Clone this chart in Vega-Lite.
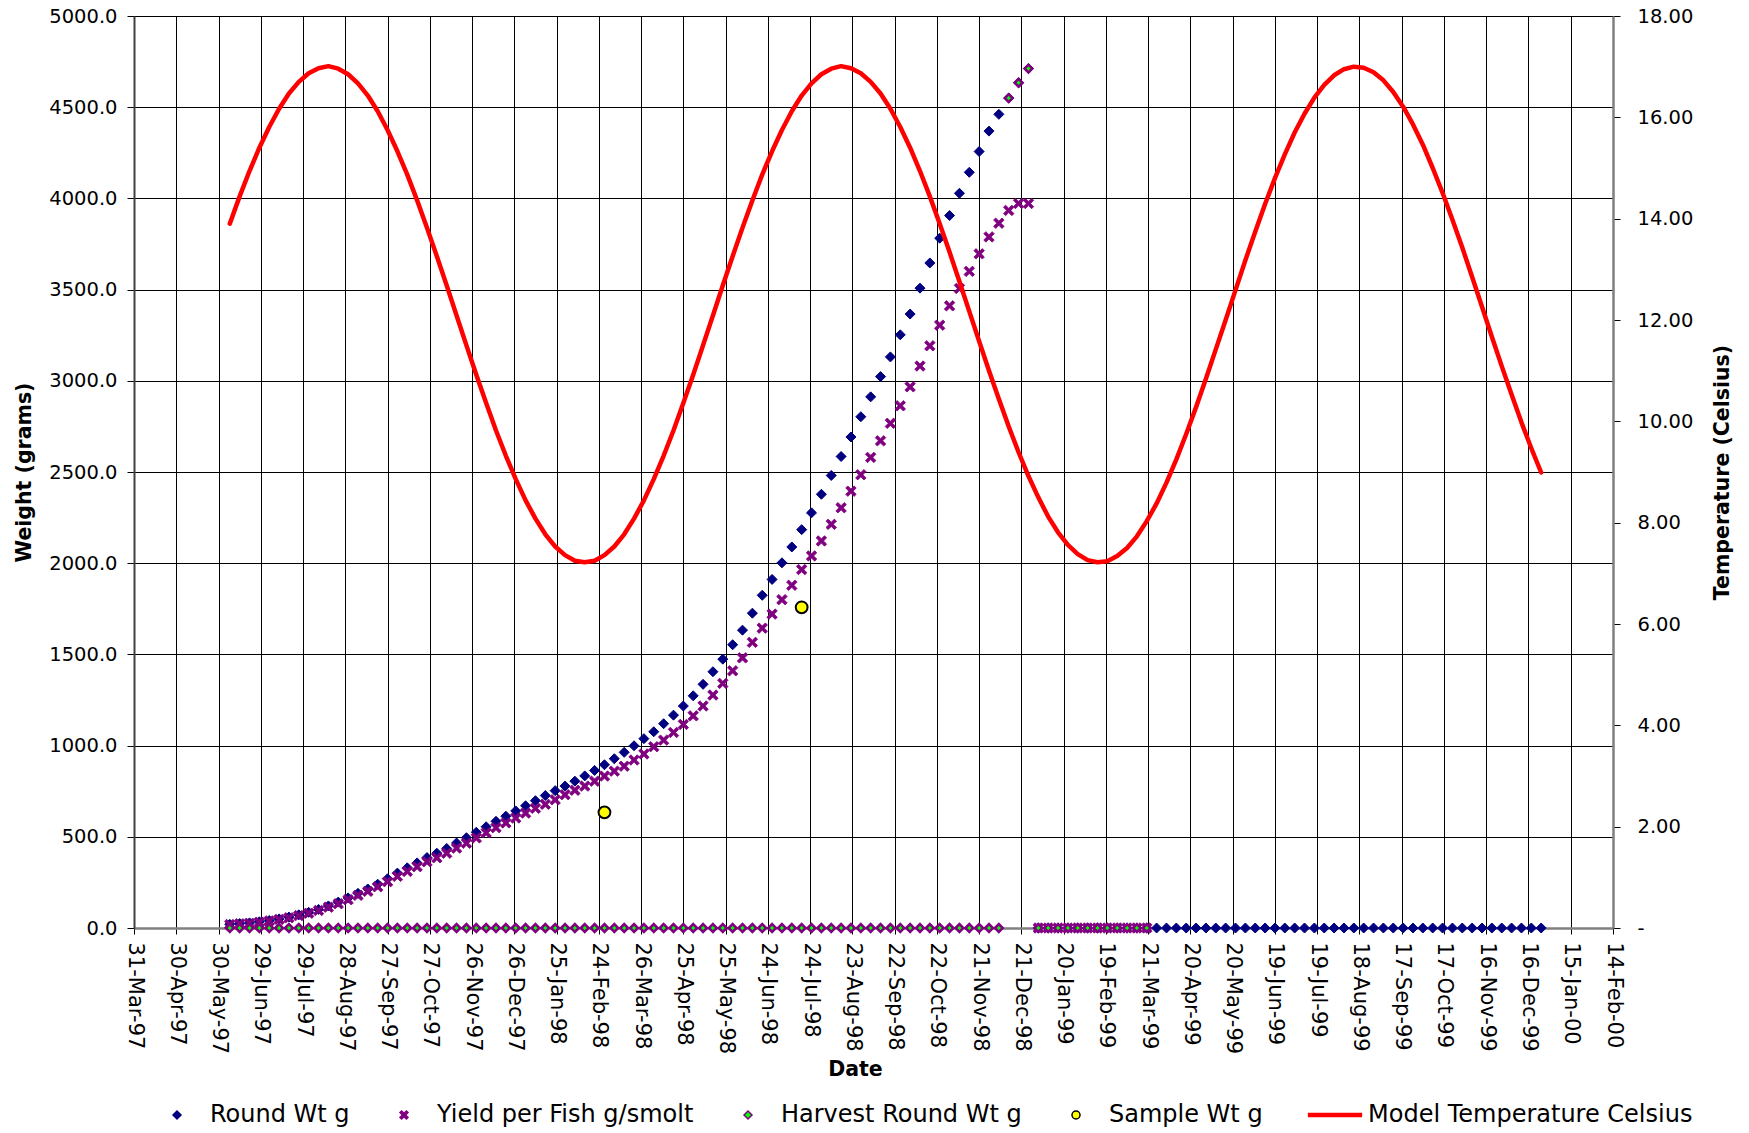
{
  "$schema": "https://vega.github.io/schema/vega-lite/v6.json",
  "width": 1479,
  "height": 912,
  "autosize": {"type": "none"},
  "padding": {"left": 134, "top": 16, "right": 136, "bottom": 205},
  "background": "white",
  "config": {
    "font": "DejaVu Sans",
    "view": {"stroke": null},
    "axis": {
      "labelColor": "#000", "titleColor": "#000", "tickColor": "#000",
      "labelFont": "DejaVu Sans", "titleFont": "DejaVu Sans", "titleFontWeight": "bold", "titleFontSize": 20.5,
      "gridColor": "#000", "gridOpacity": 1, "gridWidth": 1,
      "labelOverlap": false, "labelBound": false, "labelFlush": false
    },
    "legend": {
      "labelFont": "DejaVu Sans", "labelFontSize": 24, "labelColor": "#000", "labelOffset": 21,
      "symbolSize": 64, "symbolStrokeWidth": 1.5, "padding": 0, "labelLimit": 400, "columnPadding": 42, "symbolOpacity": 1
    }
  },
  "data": {"values": [
    {"date": "1997-06-07", "Round Wt g": 20, "Yield per Fish g/smolt": 19, "Harvest Round Wt g": 0, "Model Temperature Celsius": 13.90},
    {"date": "1997-06-14", "Round Wt g": 24, "Yield per Fish g/smolt": 23, "Harvest Round Wt g": 0, "Model Temperature Celsius": 14.44},
    {"date": "1997-06-21", "Round Wt g": 28, "Yield per Fish g/smolt": 26, "Harvest Round Wt g": 0, "Model Temperature Celsius": 14.94},
    {"date": "1997-06-28", "Round Wt g": 34, "Yield per Fish g/smolt": 32, "Harvest Round Wt g": 0, "Model Temperature Celsius": 15.40},
    {"date": "1997-07-05", "Round Wt g": 41, "Yield per Fish g/smolt": 39, "Harvest Round Wt g": 0, "Model Temperature Celsius": 15.81},
    {"date": "1997-07-12", "Round Wt g": 50, "Yield per Fish g/smolt": 47, "Harvest Round Wt g": 0, "Model Temperature Celsius": 16.17},
    {"date": "1997-07-19", "Round Wt g": 60, "Yield per Fish g/smolt": 56, "Harvest Round Wt g": 0, "Model Temperature Celsius": 16.47},
    {"date": "1997-07-26", "Round Wt g": 72, "Yield per Fish g/smolt": 68, "Harvest Round Wt g": 0, "Model Temperature Celsius": 16.70},
    {"date": "1997-08-02", "Round Wt g": 86, "Yield per Fish g/smolt": 81, "Harvest Round Wt g": 0, "Model Temperature Celsius": 16.87},
    {"date": "1997-08-09", "Round Wt g": 102, "Yield per Fish g/smolt": 96, "Harvest Round Wt g": 0, "Model Temperature Celsius": 16.97},
    {"date": "1997-08-16", "Round Wt g": 121, "Yield per Fish g/smolt": 114, "Harvest Round Wt g": 0, "Model Temperature Celsius": 17.01},
    {"date": "1997-08-23", "Round Wt g": 142, "Yield per Fish g/smolt": 133, "Harvest Round Wt g": 0, "Model Temperature Celsius": 16.96},
    {"date": "1997-08-30", "Round Wt g": 165, "Yield per Fish g/smolt": 155, "Harvest Round Wt g": 0, "Model Temperature Celsius": 16.85},
    {"date": "1997-09-06", "Round Wt g": 190, "Yield per Fish g/smolt": 179, "Harvest Round Wt g": 0, "Model Temperature Celsius": 16.67},
    {"date": "1997-09-13", "Round Wt g": 214, "Yield per Fish g/smolt": 201, "Harvest Round Wt g": 0, "Model Temperature Celsius": 16.43},
    {"date": "1997-09-20", "Round Wt g": 240, "Yield per Fish g/smolt": 226, "Harvest Round Wt g": 0, "Model Temperature Celsius": 16.12},
    {"date": "1997-09-27", "Round Wt g": 270, "Yield per Fish g/smolt": 254, "Harvest Round Wt g": 0, "Model Temperature Celsius": 15.75},
    {"date": "1997-10-04", "Round Wt g": 301, "Yield per Fish g/smolt": 283, "Harvest Round Wt g": 0, "Model Temperature Celsius": 15.33},
    {"date": "1997-10-11", "Round Wt g": 330, "Yield per Fish g/smolt": 310, "Harvest Round Wt g": 0, "Model Temperature Celsius": 14.87},
    {"date": "1997-10-18", "Round Wt g": 357, "Yield per Fish g/smolt": 336, "Harvest Round Wt g": 0, "Model Temperature Celsius": 14.36},
    {"date": "1997-10-25", "Round Wt g": 386, "Yield per Fish g/smolt": 363, "Harvest Round Wt g": 0, "Model Temperature Celsius": 13.82},
    {"date": "1997-11-01", "Round Wt g": 410, "Yield per Fish g/smolt": 385, "Harvest Round Wt g": 0, "Model Temperature Celsius": 13.26},
    {"date": "1997-11-08", "Round Wt g": 436, "Yield per Fish g/smolt": 410, "Harvest Round Wt g": 0, "Model Temperature Celsius": 12.68},
    {"date": "1997-11-15", "Round Wt g": 466, "Yield per Fish g/smolt": 438, "Harvest Round Wt g": 0, "Model Temperature Celsius": 12.09},
    {"date": "1997-11-22", "Round Wt g": 495, "Yield per Fish g/smolt": 465, "Harvest Round Wt g": 0, "Model Temperature Celsius": 11.50},
    {"date": "1997-11-29", "Round Wt g": 525, "Yield per Fish g/smolt": 494, "Harvest Round Wt g": 0, "Model Temperature Celsius": 10.92},
    {"date": "1997-12-06", "Round Wt g": 555, "Yield per Fish g/smolt": 522, "Harvest Round Wt g": 0, "Model Temperature Celsius": 10.36},
    {"date": "1997-12-13", "Round Wt g": 585, "Yield per Fish g/smolt": 550, "Harvest Round Wt g": 0, "Model Temperature Celsius": 9.82},
    {"date": "1997-12-20", "Round Wt g": 613, "Yield per Fish g/smolt": 576, "Harvest Round Wt g": 0, "Model Temperature Celsius": 9.32},
    {"date": "1997-12-27", "Round Wt g": 642, "Yield per Fish g/smolt": 603, "Harvest Round Wt g": 0, "Model Temperature Celsius": 8.86},
    {"date": "1998-01-03", "Round Wt g": 670, "Yield per Fish g/smolt": 630, "Harvest Round Wt g": 0, "Model Temperature Celsius": 8.44},
    {"date": "1998-01-10", "Round Wt g": 698, "Yield per Fish g/smolt": 656, "Harvest Round Wt g": 0, "Model Temperature Celsius": 8.08},
    {"date": "1998-01-17", "Round Wt g": 726, "Yield per Fish g/smolt": 678, "Harvest Round Wt g": 0, "Model Temperature Celsius": 7.77},
    {"date": "1998-01-24", "Round Wt g": 753, "Yield per Fish g/smolt": 703, "Harvest Round Wt g": 0, "Model Temperature Celsius": 7.53},
    {"date": "1998-01-31", "Round Wt g": 778, "Yield per Fish g/smolt": 731, "Harvest Round Wt g": 0, "Model Temperature Celsius": 7.36},
    {"date": "1998-02-07", "Round Wt g": 805, "Yield per Fish g/smolt": 755, "Harvest Round Wt g": 0, "Model Temperature Celsius": 7.25},
    {"date": "1998-02-14", "Round Wt g": 834, "Yield per Fish g/smolt": 778, "Harvest Round Wt g": 0, "Model Temperature Celsius": 7.22},
    {"date": "1998-02-21", "Round Wt g": 864, "Yield per Fish g/smolt": 805, "Harvest Round Wt g": 0, "Model Temperature Celsius": 7.25},
    {"date": "1998-02-28", "Round Wt g": 895, "Yield per Fish g/smolt": 833, "Harvest Round Wt g": 0, "Model Temperature Celsius": 7.36, "Sample Wt g": 634},
    {"date": "1998-03-07", "Round Wt g": 928, "Yield per Fish g/smolt": 860, "Harvest Round Wt g": 0, "Model Temperature Celsius": 7.53},
    {"date": "1998-03-14", "Round Wt g": 963, "Yield per Fish g/smolt": 887, "Harvest Round Wt g": 0, "Model Temperature Celsius": 7.77},
    {"date": "1998-03-21", "Round Wt g": 999, "Yield per Fish g/smolt": 921, "Harvest Round Wt g": 0, "Model Temperature Celsius": 8.08},
    {"date": "1998-03-28", "Round Wt g": 1038, "Yield per Fish g/smolt": 954, "Harvest Round Wt g": 0, "Model Temperature Celsius": 8.44},
    {"date": "1998-04-04", "Round Wt g": 1076, "Yield per Fish g/smolt": 994, "Harvest Round Wt g": 0, "Model Temperature Celsius": 8.86},
    {"date": "1998-04-11", "Round Wt g": 1120, "Yield per Fish g/smolt": 1030, "Harvest Round Wt g": 0, "Model Temperature Celsius": 9.32},
    {"date": "1998-04-18", "Round Wt g": 1167, "Yield per Fish g/smolt": 1072, "Harvest Round Wt g": 0, "Model Temperature Celsius": 9.82},
    {"date": "1998-04-25", "Round Wt g": 1217, "Yield per Fish g/smolt": 1116, "Harvest Round Wt g": 0, "Model Temperature Celsius": 10.36},
    {"date": "1998-05-02", "Round Wt g": 1273, "Yield per Fish g/smolt": 1163, "Harvest Round Wt g": 0, "Model Temperature Celsius": 10.92},
    {"date": "1998-05-09", "Round Wt g": 1336, "Yield per Fish g/smolt": 1217, "Harvest Round Wt g": 0, "Model Temperature Celsius": 11.50},
    {"date": "1998-05-16", "Round Wt g": 1405, "Yield per Fish g/smolt": 1277, "Harvest Round Wt g": 0, "Model Temperature Celsius": 12.09},
    {"date": "1998-05-23", "Round Wt g": 1474, "Yield per Fish g/smolt": 1341, "Harvest Round Wt g": 0, "Model Temperature Celsius": 12.68},
    {"date": "1998-05-30", "Round Wt g": 1553, "Yield per Fish g/smolt": 1410, "Harvest Round Wt g": 0, "Model Temperature Celsius": 13.26},
    {"date": "1998-06-06", "Round Wt g": 1633, "Yield per Fish g/smolt": 1481, "Harvest Round Wt g": 0, "Model Temperature Celsius": 13.82},
    {"date": "1998-06-13", "Round Wt g": 1726, "Yield per Fish g/smolt": 1566, "Harvest Round Wt g": 0, "Model Temperature Celsius": 14.36},
    {"date": "1998-06-20", "Round Wt g": 1824, "Yield per Fish g/smolt": 1644, "Harvest Round Wt g": 0, "Model Temperature Celsius": 14.87},
    {"date": "1998-06-27", "Round Wt g": 1911, "Yield per Fish g/smolt": 1721, "Harvest Round Wt g": 0, "Model Temperature Celsius": 15.33},
    {"date": "1998-07-04", "Round Wt g": 2002, "Yield per Fish g/smolt": 1800, "Harvest Round Wt g": 0, "Model Temperature Celsius": 15.75},
    {"date": "1998-07-11", "Round Wt g": 2089, "Yield per Fish g/smolt": 1879, "Harvest Round Wt g": 0, "Model Temperature Celsius": 16.12},
    {"date": "1998-07-18", "Round Wt g": 2184, "Yield per Fish g/smolt": 1965, "Harvest Round Wt g": 0, "Model Temperature Celsius": 16.43, "Sample Wt g": 1758},
    {"date": "1998-07-25", "Round Wt g": 2276, "Yield per Fish g/smolt": 2040, "Harvest Round Wt g": 0, "Model Temperature Celsius": 16.67},
    {"date": "1998-08-01", "Round Wt g": 2378, "Yield per Fish g/smolt": 2122, "Harvest Round Wt g": 0, "Model Temperature Celsius": 16.85},
    {"date": "1998-08-08", "Round Wt g": 2481, "Yield per Fish g/smolt": 2213, "Harvest Round Wt g": 0, "Model Temperature Celsius": 16.96},
    {"date": "1998-08-15", "Round Wt g": 2585, "Yield per Fish g/smolt": 2304, "Harvest Round Wt g": 0, "Model Temperature Celsius": 17.01},
    {"date": "1998-08-22", "Round Wt g": 2692, "Yield per Fish g/smolt": 2395, "Harvest Round Wt g": 0, "Model Temperature Celsius": 16.97},
    {"date": "1998-08-29", "Round Wt g": 2803, "Yield per Fish g/smolt": 2485, "Harvest Round Wt g": 0, "Model Temperature Celsius": 16.87},
    {"date": "1998-09-05", "Round Wt g": 2912, "Yield per Fish g/smolt": 2580, "Harvest Round Wt g": 0, "Model Temperature Celsius": 16.70},
    {"date": "1998-09-12", "Round Wt g": 3023, "Yield per Fish g/smolt": 2671, "Harvest Round Wt g": 0, "Model Temperature Celsius": 16.47},
    {"date": "1998-09-19", "Round Wt g": 3131, "Yield per Fish g/smolt": 2767, "Harvest Round Wt g": 0, "Model Temperature Celsius": 16.17},
    {"date": "1998-09-26", "Round Wt g": 3252, "Yield per Fish g/smolt": 2863, "Harvest Round Wt g": 0, "Model Temperature Celsius": 15.81},
    {"date": "1998-10-03", "Round Wt g": 3366, "Yield per Fish g/smolt": 2967, "Harvest Round Wt g": 0, "Model Temperature Celsius": 15.40},
    {"date": "1998-10-10", "Round Wt g": 3508, "Yield per Fish g/smolt": 3081, "Harvest Round Wt g": 0, "Model Temperature Celsius": 14.94},
    {"date": "1998-10-17", "Round Wt g": 3646, "Yield per Fish g/smolt": 3192, "Harvest Round Wt g": 0, "Model Temperature Celsius": 14.44},
    {"date": "1998-10-24", "Round Wt g": 3782, "Yield per Fish g/smolt": 3305, "Harvest Round Wt g": 0, "Model Temperature Celsius": 13.90},
    {"date": "1998-10-31", "Round Wt g": 3906, "Yield per Fish g/smolt": 3411, "Harvest Round Wt g": 0, "Model Temperature Celsius": 13.34},
    {"date": "1998-11-07", "Round Wt g": 4028, "Yield per Fish g/smolt": 3506, "Harvest Round Wt g": 0, "Model Temperature Celsius": 12.76},
    {"date": "1998-11-14", "Round Wt g": 4143, "Yield per Fish g/smolt": 3600, "Harvest Round Wt g": 0, "Model Temperature Celsius": 12.17},
    {"date": "1998-11-21", "Round Wt g": 4257, "Yield per Fish g/smolt": 3696, "Harvest Round Wt g": 0, "Model Temperature Celsius": 11.58},
    {"date": "1998-11-28", "Round Wt g": 4369, "Yield per Fish g/smolt": 3789, "Harvest Round Wt g": 0, "Model Temperature Celsius": 11.00},
    {"date": "1998-12-05", "Round Wt g": 4461, "Yield per Fish g/smolt": 3864, "Harvest Round Wt g": 0, "Model Temperature Celsius": 10.44},
    {"date": "1998-12-12", "Round Wt g": 4550, "Yield per Fish g/smolt": 3934, "Harvest Round Wt g": 4550, "Model Temperature Celsius": 9.90},
    {"date": "1998-12-19", "Round Wt g": 4634, "Yield per Fish g/smolt": 3972, "Harvest Round Wt g": 4634, "Model Temperature Celsius": 9.39},
    {"date": "1998-12-26", "Round Wt g": 4712, "Yield per Fish g/smolt": 3972, "Harvest Round Wt g": 4712, "Model Temperature Celsius": 8.92},
    {"date": "1999-01-02", "Round Wt g": 0, "Yield per Fish g/smolt": 0, "Harvest Round Wt g": 0, "Model Temperature Celsius": 8.50},
    {"date": "1999-01-09", "Round Wt g": 0, "Yield per Fish g/smolt": 0, "Harvest Round Wt g": 0, "Model Temperature Celsius": 8.12},
    {"date": "1999-01-16", "Round Wt g": 0, "Yield per Fish g/smolt": 0, "Harvest Round Wt g": 0, "Model Temperature Celsius": 7.81},
    {"date": "1999-01-23", "Round Wt g": 0, "Yield per Fish g/smolt": 0, "Harvest Round Wt g": 0, "Model Temperature Celsius": 7.56},
    {"date": "1999-01-30", "Round Wt g": 0, "Yield per Fish g/smolt": 0, "Harvest Round Wt g": 0, "Model Temperature Celsius": 7.38},
    {"date": "1999-02-06", "Round Wt g": 0, "Yield per Fish g/smolt": 0, "Harvest Round Wt g": 0, "Model Temperature Celsius": 7.26},
    {"date": "1999-02-13", "Round Wt g": 0, "Yield per Fish g/smolt": 0, "Harvest Round Wt g": 0, "Model Temperature Celsius": 7.22},
    {"date": "1999-02-20", "Round Wt g": 0, "Yield per Fish g/smolt": 0, "Harvest Round Wt g": 0, "Model Temperature Celsius": 7.24},
    {"date": "1999-02-27", "Round Wt g": 0, "Yield per Fish g/smolt": 0, "Harvest Round Wt g": 0, "Model Temperature Celsius": 7.34},
    {"date": "1999-03-06", "Round Wt g": 0, "Yield per Fish g/smolt": 0, "Harvest Round Wt g": 0, "Model Temperature Celsius": 7.50},
    {"date": "1999-03-13", "Round Wt g": 0, "Yield per Fish g/smolt": 0, "Harvest Round Wt g": 0, "Model Temperature Celsius": 7.73},
    {"date": "1999-03-20", "Round Wt g": 0, "Yield per Fish g/smolt": 0, "Harvest Round Wt g": 0, "Model Temperature Celsius": 8.03},
    {"date": "1999-03-27", "Round Wt g": 0, "Model Temperature Celsius": 8.38},
    {"date": "1999-04-03", "Round Wt g": 0, "Model Temperature Celsius": 8.79},
    {"date": "1999-04-10", "Round Wt g": 0, "Model Temperature Celsius": 9.25},
    {"date": "1999-04-17", "Round Wt g": 0, "Model Temperature Celsius": 9.75},
    {"date": "1999-04-24", "Round Wt g": 0, "Model Temperature Celsius": 10.28},
    {"date": "1999-05-01", "Round Wt g": 0, "Model Temperature Celsius": 10.84},
    {"date": "1999-05-08", "Round Wt g": 0, "Model Temperature Celsius": 11.42},
    {"date": "1999-05-15", "Round Wt g": 0, "Model Temperature Celsius": 12.00},
    {"date": "1999-05-22", "Round Wt g": 0, "Model Temperature Celsius": 12.59},
    {"date": "1999-05-29", "Round Wt g": 0, "Model Temperature Celsius": 13.18},
    {"date": "1999-06-05", "Round Wt g": 0, "Model Temperature Celsius": 13.74},
    {"date": "1999-06-12", "Round Wt g": 0, "Model Temperature Celsius": 14.29},
    {"date": "1999-06-19", "Round Wt g": 0, "Model Temperature Celsius": 14.80},
    {"date": "1999-06-26", "Round Wt g": 0, "Model Temperature Celsius": 15.27},
    {"date": "1999-07-03", "Round Wt g": 0, "Model Temperature Celsius": 15.70},
    {"date": "1999-07-10", "Round Wt g": 0, "Model Temperature Celsius": 16.07},
    {"date": "1999-07-17", "Round Wt g": 0, "Model Temperature Celsius": 16.39},
    {"date": "1999-07-24", "Round Wt g": 0, "Model Temperature Celsius": 16.64},
    {"date": "1999-07-31", "Round Wt g": 0, "Model Temperature Celsius": 16.83},
    {"date": "1999-08-07", "Round Wt g": 0, "Model Temperature Celsius": 16.95},
    {"date": "1999-08-14", "Round Wt g": 0, "Model Temperature Celsius": 17.00},
    {"date": "1999-08-21", "Round Wt g": 0, "Model Temperature Celsius": 16.98},
    {"date": "1999-08-28", "Round Wt g": 0, "Model Temperature Celsius": 16.89},
    {"date": "1999-09-04", "Round Wt g": 0, "Model Temperature Celsius": 16.73},
    {"date": "1999-09-11", "Round Wt g": 0, "Model Temperature Celsius": 16.50},
    {"date": "1999-09-18", "Round Wt g": 0, "Model Temperature Celsius": 16.21},
    {"date": "1999-09-25", "Round Wt g": 0, "Model Temperature Celsius": 15.86},
    {"date": "1999-10-02", "Round Wt g": 0, "Model Temperature Celsius": 15.46},
    {"date": "1999-10-09", "Round Wt g": 0, "Model Temperature Celsius": 15.00},
    {"date": "1999-10-16", "Round Wt g": 0, "Model Temperature Celsius": 14.51},
    {"date": "1999-10-23", "Round Wt g": 0, "Model Temperature Celsius": 13.98},
    {"date": "1999-10-30", "Round Wt g": 0, "Model Temperature Celsius": 13.43},
    {"date": "1999-11-06", "Round Wt g": 0, "Model Temperature Celsius": 12.85},
    {"date": "1999-11-13", "Round Wt g": 0, "Model Temperature Celsius": 12.26},
    {"date": "1999-11-20", "Round Wt g": 0, "Model Temperature Celsius": 11.67},
    {"date": "1999-11-27", "Round Wt g": 0, "Model Temperature Celsius": 11.09},
    {"date": "1999-12-04", "Round Wt g": 0, "Model Temperature Celsius": 10.53},
    {"date": "1999-12-11", "Round Wt g": 0, "Model Temperature Celsius": 9.98},
    {"date": "1999-12-18", "Round Wt g": 0, "Model Temperature Celsius": 9.47},
    {"date": "1999-12-25", "Round Wt g": 0, "Model Temperature Celsius": 8.99}
  ]},
  "encoding": {
    "x": {
      "field": "date", "type": "temporal",
      "scale": {"type": "utc", "domain": [{"year": 1997, "month": "Mar", "date": 31, "utc": true}, {"year": 2000, "month": "Feb", "date": 14, "utc": true}]},
      "axis": {
        "values": [
          {"year": 1997, "month": "Mar", "date": 31, "utc": true}, {"year": 1997, "month": "Apr", "date": 30, "utc": true},
          {"year": 1997, "month": "May", "date": 30, "utc": true}, {"year": 1997, "month": "Jun", "date": 29, "utc": true},
          {"year": 1997, "month": "Jul", "date": 29, "utc": true}, {"year": 1997, "month": "Aug", "date": 28, "utc": true},
          {"year": 1997, "month": "Sep", "date": 27, "utc": true}, {"year": 1997, "month": "Oct", "date": 27, "utc": true},
          {"year": 1997, "month": "Nov", "date": 26, "utc": true}, {"year": 1997, "month": "Dec", "date": 26, "utc": true},
          {"year": 1998, "month": "Jan", "date": 25, "utc": true}, {"year": 1998, "month": "Feb", "date": 24, "utc": true},
          {"year": 1998, "month": "Mar", "date": 26, "utc": true}, {"year": 1998, "month": "Apr", "date": 25, "utc": true},
          {"year": 1998, "month": "May", "date": 25, "utc": true}, {"year": 1998, "month": "Jun", "date": 24, "utc": true},
          {"year": 1998, "month": "Jul", "date": 24, "utc": true}, {"year": 1998, "month": "Aug", "date": 23, "utc": true},
          {"year": 1998, "month": "Sep", "date": 22, "utc": true}, {"year": 1998, "month": "Oct", "date": 22, "utc": true},
          {"year": 1998, "month": "Nov", "date": 21, "utc": true}, {"year": 1998, "month": "Dec", "date": 21, "utc": true},
          {"year": 1999, "month": "Jan", "date": 20, "utc": true}, {"year": 1999, "month": "Feb", "date": 19, "utc": true},
          {"year": 1999, "month": "Mar", "date": 21, "utc": true}, {"year": 1999, "month": "Apr", "date": 20, "utc": true},
          {"year": 1999, "month": "May", "date": 20, "utc": true}, {"year": 1999, "month": "Jun", "date": 19, "utc": true},
          {"year": 1999, "month": "Jul", "date": 19, "utc": true}, {"year": 1999, "month": "Aug", "date": 18, "utc": true},
          {"year": 1999, "month": "Sep", "date": 17, "utc": true}, {"year": 1999, "month": "Oct", "date": 17, "utc": true},
          {"year": 1999, "month": "Nov", "date": 16, "utc": true}, {"year": 1999, "month": "Dec", "date": 16, "utc": true},
          {"year": 2000, "month": "Jan", "date": 15, "utc": true}, {"year": 2000, "month": "Feb", "date": 14, "utc": true}
        ],
        "labelExpr": "utcFormat(datum.value, '%d-%b-%y')",
        "labelAngle": 90, "labelAlign": "left", "labelBaseline": "middle",
        "labelFontSize": 21, "labelPadding": 8, "tickSize": 6,
        "domainColor": "#808080", "domainWidth": 2.5,
        "grid": true,
        "title": "Date", "titleX": 721, "titleY": 141, "titleAlign": "center", "titleBaseline": "middle"
      }
    }
  },
  "layer": [
    {
      "encoding": {
        "y": {
          "field": "value", "type": "quantitative",
          "scale": {"domain": [0, 5000], "nice": false},
          "axis": {
            "orient": "left", "values": [0, 500, 1000, 1500, 2000, 2500, 3000, 3500, 4000, 4500, 5000],
            "format": ".1f", "labelFontSize": 19.5, "tickSize": 7, "labelPadding": 10,
            "grid": true, "domainColor": "#404040", "domainWidth": 2,
            "title": "Weight (grams)", "titleAngle": 270, "titleX": -110, "titleY": 456, "titleAlign": "center", "titleBaseline": "middle"
          }
        },
        "fill": {
          "field": "series", "type": "nominal",
          "scale": {"domain": ["Round Wt g", "Yield per Fish g/smolt", "Harvest Round Wt g", "Sample Wt g", "Model Temperature Celsius"],
                    "range": ["#000080", "#800080", "#00FF00", "#FFFF00", "#FF0000"]},
          "legend": {"title": null, "orient": "none", "legendX": 31, "legendY": 1087, "direction": "horizontal", "columns": 5}
        },
        "stroke": {
          "field": "series", "type": "nominal",
          "scale": {"domain": ["Round Wt g", "Yield per Fish g/smolt", "Harvest Round Wt g", "Sample Wt g", "Model Temperature Celsius"],
                    "range": ["#000080", "#800080", "#800080", "#000000", "#FF0000"]},
          "legend": {"title": null, "orient": "none", "legendX": 31, "legendY": 1087, "direction": "horizontal", "columns": 5}
        },
        "shape": {
          "field": "series", "type": "nominal",
          "scale": {"domain": ["Round Wt g", "Yield per Fish g/smolt", "Harvest Round Wt g", "Sample Wt g", "Model Temperature Celsius"],
                    "range": ["diamond", "M-1,-0.6L-0.6,-1L0,-0.4L0.6,-1L1,-0.6L0.4,0L1,0.6L0.6,1L0,0.4L-0.6,1L-1,0.6L-0.4,0Z", "diamond", "circle", "M-6.6,-0.4L6.6,-0.4L6.6,0.4L-6.6,0.4Z"]},
          "legend": {"title": null, "orient": "none", "legendX": 31, "legendY": 1087, "direction": "horizontal", "columns": 5}
        }
      },
      "layer": [
        {
          "transform": [{"fold": ["Round Wt g"], "as": ["series", "value"]}, {"filter": "isValid(datum.value)"}],
          "mark": {"type": "point", "filled": true, "opacity": 1, "size": 100, "strokeWidth": 1}
        },
        {
          "transform": [{"fold": ["Yield per Fish g/smolt"], "as": ["series", "value"]}, {"filter": "isValid(datum.value)"}],
          "mark": {"type": "point", "filled": true, "opacity": 1, "size": 110, "strokeWidth": 0.8}
        },
        {
          "transform": [{"fold": ["Harvest Round Wt g"], "as": ["series", "value"]}, {"filter": "isValid(datum.value)"}],
          "mark": {"type": "point", "filled": true, "opacity": 1, "size": 60, "strokeWidth": 2.5}
        },
        {
          "transform": [{"fold": ["Sample Wt g"], "as": ["series", "value"]}, {"filter": "isValid(datum.value)"}],
          "mark": {"type": "point", "filled": true, "opacity": 1, "size": 140, "strokeWidth": 2}
        }
      ]
    },
    {
      "transform": [{"fold": ["Model Temperature Celsius"], "as": ["series", "value"]}, {"filter": "isValid(datum.value)"}],
      "mark": {"type": "line", "strokeWidth": 4.5, "strokeCap": "round", "strokeJoin": "round"},
      "encoding": {
        "y": {
          "field": "value", "type": "quantitative",
          "scale": {"domain": [0, 18], "nice": false},
          "axis": {
            "orient": "right", "values": [0, 2, 4, 6, 8, 10, 12, 14, 16, 18],
            "labelExpr": "datum.value == 0 ? '-' : format(datum.value, '.2f')",
            "labelFontSize": 19.5, "tickSize": 7, "labelPadding": 17,
            "grid": false, "domainColor": "#808080", "domainWidth": 2.5,
            "title": "Temperature (Celsius)", "titleAngle": 270, "titleX": 109, "titleY": 456, "titleAlign": "center", "titleBaseline": "middle"
          }
        },
        "stroke": {
          "field": "series", "type": "nominal",
          "scale": {"domain": ["Round Wt g", "Yield per Fish g/smolt", "Harvest Round Wt g", "Sample Wt g", "Model Temperature Celsius"],
                    "range": ["#000080", "#800080", "#800080", "#000000", "#FF0000"]},
          "legend": null
        }
      }
    }
  ],
  "resolve": {"scale": {"y": "independent"}}
}
